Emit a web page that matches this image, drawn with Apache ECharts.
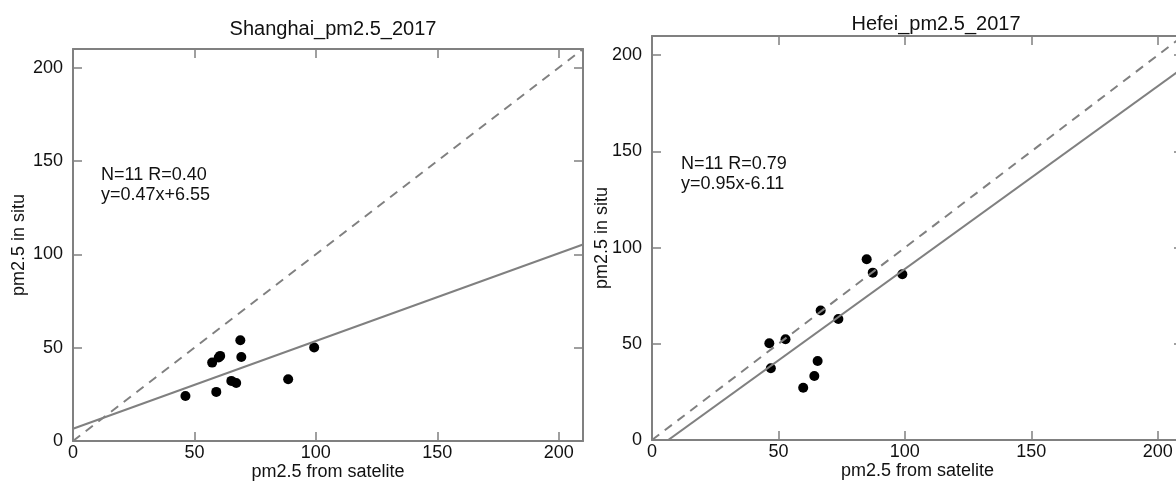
<!DOCTYPE html>
<html>
<head>
<meta charset="utf-8">
<script src="https://cdn.jsdelivr.net/npm/echarts@6/dist/echarts.min.js"></script>
<style>
  html, body { margin: 0; padding: 0; background: #ffffff; }
  #main { width: 1176px; height: 482px; }
</style>
</head>
<body>
<div id="main"></div>
<script>
// values
const axisMax = 210;
const shanghaiSat = [46.3, 57.3, 60.0, 60.6, 68.9, 69.3, 65.2, 67.2, 59.0, 88.6, 99.3];
const shanghaiSitu = [24.1, 42.0, 44.7, 45.6, 54.0, 45.0, 32.2, 31.1, 26.3, 33.1, 50.1];
const shanghaiFit = [0.47, 6.55];
const hefeiSat = [46.4, 47.0, 52.8, 59.8, 64.2, 65.5, 66.7, 73.7, 84.9, 87.3, 99.0];
const hefeiSitu = [50.3, 37.3, 52.4, 27.2, 33.3, 41.1, 67.3, 62.9, 94.0, 87.0, 86.2];
const hefeiFit = [0.95, -6.11];

const font = "'Liberation Sans', Arial, sans-serif";
const grey = "#808080";

function pairs(xs, ys) {
  return xs.map((x, i) => [x, ys[i]]);
}
function fitLine(fit) {
  return [[0, fit[1]], [axisMax, fit[0] * axisMax + fit[1]]];
}

function baseAxis(grid) {
  return {
    type: "value", gridIndex: grid, min: 0, max: axisMax, interval: 50,
    axisLine: { onZero: false, lineStyle: { color: grey, width: 2 } },
    axisTick: { inside: true, length: 9, lineStyle: { color: grey, width: 1.5 } },
    splitLine: { show: false }
  };
}

// one bottom/left axis with labels, one mirrored top/right axis with ticks only
function xAxes(grid) {
  return [
    Object.assign(baseAxis(grid), {
      position: "bottom",
      name: "pm2.5 from satelite", nameLocation: "middle", nameGap: 22, nameMoveOverlap: false,
      nameTextStyle: { fontSize: 18, color: "#111", fontFamily: font },
      axisLabel: { margin: 3, fontSize: 18, color: "#111", fontFamily: font, showMaxLabel: false }
    }),
    Object.assign(baseAxis(grid), { position: "top", axisLabel: { show: false } })
  ];
}
function yAxes(grid, gap) {
  return [
    Object.assign(baseAxis(grid), {
      position: "left",
      name: "pm2.5 in situ", nameLocation: "middle", nameGap: gap, nameMoveOverlap: false,
      nameTextStyle: { fontSize: 18, color: "#111", fontFamily: font },
      axisLabel: { margin: 10, fontSize: 18, color: "#111", fontFamily: font, showMaxLabel: false }
    }),
    Object.assign(baseAxis(grid), { position: "right", axisLabel: { show: false } })
  ];
}

function panel(grid, sat, situ, fit) {
  let xi = grid * 2, yi = grid * 2;
  return [
    {
      type: "line", xAxisIndex: xi, yAxisIndex: yi, data: [[0, 0], [axisMax, axisMax]],
      symbol: "none", silent: true,
      lineStyle: { color: grey, width: 2, type: [9, 7] }
    },
    {
      type: "line", xAxisIndex: xi, yAxisIndex: yi, data: fitLine(fit),
      symbol: "none", silent: true, clip: true,
      lineStyle: { color: grey, width: 2 }
    },
    {
      type: "scatter", xAxisIndex: xi, yAxisIndex: yi, data: pairs(sat, situ),
      symbolSize: 10, itemStyle: { color: "#000", opacity: 1 }
    }
  ];
}

let myChart = echarts.init(document.getElementById("main"));
let option = {
  animation: false,
  textStyle: { fontFamily: font },
  title: [
    { text: "Shanghai_pm2.5_2017", left: 328, top: 14, textAlign: "center",
      textStyle: { fontSize: 20, fontWeight: "normal", color: "#111", fontFamily: font } },
    { text: "Hefei_pm2.5_2017", left: 931, top: 9, textAlign: "center",
      textStyle: { fontSize: 20, fontWeight: "normal", color: "#111", fontFamily: font } },
    { text: "N=11 R=0.40\ny=0.47x+6.55", left: 96, top: 160,
      textStyle: { fontSize: 18, fontWeight: "normal", color: "#111", lineHeight: 20, fontFamily: font } },
    { text: "N=11 R=0.79\ny=0.95x-6.11", left: 676, top: 149,
      textStyle: { fontSize: 18, fontWeight: "normal", color: "#111", lineHeight: 20, fontFamily: font } }
  ],
  grid: [
    { left: 73, top: 49, width: 510, height: 392, outerBoundsMode: "none" },
    { left: 652, top: 36, width: 531, height: 404, outerBoundsMode: "none" }
  ],
  xAxis: xAxes(0).concat(xAxes(1)),
  yAxis: yAxes(0, 45).concat(yAxes(1, 41)),
  series: panel(0, shanghaiSat, shanghaiSitu, shanghaiFit)
    .concat(panel(1, hefeiSat, hefeiSitu, hefeiFit))
};
myChart.setOption(option);
</script>
</body>
</html>
